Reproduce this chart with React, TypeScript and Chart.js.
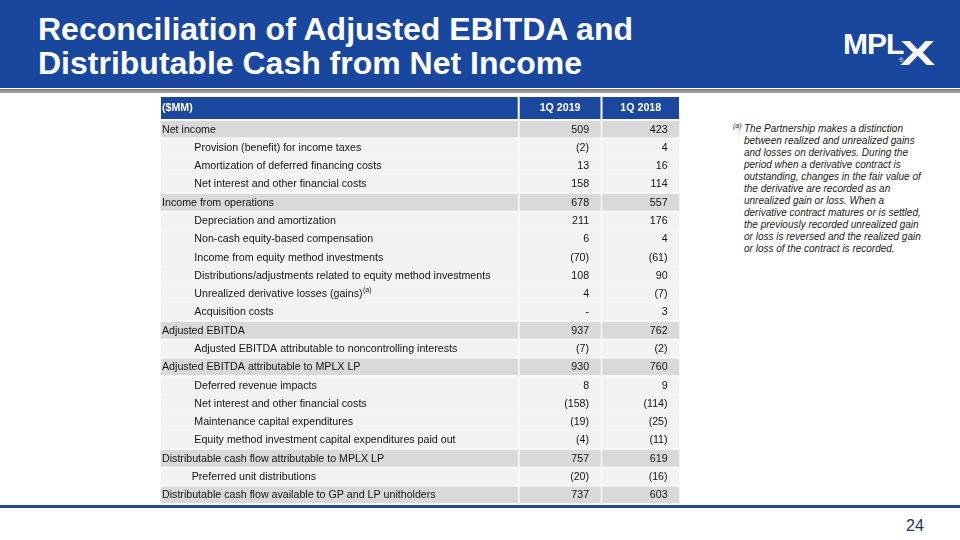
import React, { useEffect, useRef } from "react";
import { Chart, registerables } from "chart.js";

Chart.register(...registerables);

// ---------------- data ----------------
const COLUMN_HEADERS = ["($MM)", "1Q 2019", "1Q 2018"];

const ROW_LABELS = [
  "Net income",
  "Provision (benefit) for income taxes",
  "Amortization of deferred financing costs",
  "Net interest and other financial costs",
  "Income from operations",
  "Depreciation and amortization",
  "Non-cash equity-based compensation",
  "Income from equity method investments",
  "Distributions/adjustments related to equity method investments",
  "Unrealized derivative losses (gains)",
  "Acquisition costs",
  "Adjusted EBITDA",
  "Adjusted EBITDA attributable to noncontrolling interests",
  "Adjusted EBITDA attributable to MPLX LP",
  "Deferred revenue impacts",
  "Net interest and other financial costs",
  "Maintenance capital expenditures",
  "Equity method investment capital expenditures paid out",
  "Distributable cash flow attributable to MPLX LP",
  "Preferred unit distributions",
  "Distributable cash flow available to GP and LP unitholders",
];

const ROW_NOTES = ["", "", "", "", "", "", "", "", "", "(a)", "", "", "", "", "", "", "", "", "", "", ""];

// 0 = subtotal row, 1 = indented item, 2 = slightly less indented item
const ROW_LEVELS = [0, 1, 1, 1, 0, 1, 1, 1, 1, 1, 1, 0, 1, 0, 1, 1, 1, 1, 0, 2, 0];

const ROW_SHADED = [
  true, false, false, false, true, false, false, false, false, false, false,
  true, false, true, false, false, false, false, true, false, true,
];

const Q1_2019 = [509, -2, 13, 158, 678, 211, 6, -70, 108, 4, 0, 937, -7, 930, 8, -158, -19, -4, 757, -20, 737];
const Q1_2018 = [423, 4, 16, 114, 557, 176, 4, -61, 90, -7, 3, 762, -2, 760, 9, -114, -25, -11, 619, -16, 603];

const TITLE_LINES = ["Reconciliation of Adjusted EBITDA and", "Distributable Cash from Net Income"];

const FOOTNOTE_LINES = [
  "The Partnership makes a distinction",
  "between realized and unrealized gains",
  "and losses on derivatives. During the",
  "period when a derivative contract is",
  "outstanding, changes in the fair value of",
  "the derivative are recorded as an",
  "unrealized gain or loss. When a",
  "derivative contract matures or is settled,",
  "the previously recorded unrealized gain",
  "or loss is reversed and the realized gain",
  "or loss of the contract is recorded.",
];

const PAGE_NUMBER = "24";

// ---------------- layout / style ----------------
const FONT = "'Liberation Sans', Arial, Helvetica, sans-serif";
const BLUE = "#19479d";
const HEADER_BG = "#1b489e";
const SHADED_BG = "#d9d9d9";
const LIGHT_BG = "#f2f2f2";
const TEXT_COLOR = "#141414";
const TABLE_WIDTH = 520;
const COL_EDGES = [0, 358.7, 441.5, 520];
const INDENT_PX = [2, 34.3, 31.7];
const VALUE_PAD = 12.4;
const TABLE_FONT_SIZE = 10.67;

const VALUE_COLUMNS = [Q1_2019, Q1_2018];

function fmt(v: number): string {
  if (v === 0) return "-";
  if (v < 0) return "(" + Math.abs(v) + ")";
  return String(v);
}

const tablePlugin = {
  id: "tableCells",
  beforeDatasetsDraw(chart: any) {
    const { ctx, scales } = chart;
    const x = scales.x;
    ctx.save();
    ctx.fillStyle = HEADER_BG;
    for (let c = 0; c < COLUMN_HEADERS.length; c++) {
      const x0 = x.getPixelForValue(COL_EDGES[c]);
      const x1 = x.getPixelForValue(COL_EDGES[c + 1]);
      ctx.fillRect(x0 + 1, x.top + 1, x1 - x0 - 2, x.bottom - x.top - 2);
    }
    ctx.restore();
  },
  afterDatasetsDraw(chart: any) {
    const { ctx, scales } = chart;
    const x = scales.x;
    const y = scales.y;
    ctx.save();
    // header text
    const hy = (x.top + x.bottom) / 2 + 0.5;
    ctx.fillStyle = "#ffffff";
    ctx.font = `bold ${TABLE_FONT_SIZE}px ${FONT}`;
    ctx.textBaseline = "middle";
    ctx.textAlign = "left";
    ctx.fillText(COLUMN_HEADERS[0], x.getPixelForValue(COL_EDGES[0]) + INDENT_PX[0], hy);
    ctx.textAlign = "center";
    for (let c = 1; c < COLUMN_HEADERS.length; c++) {
      const cx = (x.getPixelForValue(COL_EDGES[c]) + x.getPixelForValue(COL_EDGES[c + 1])) / 2;
      ctx.fillText(COLUMN_HEADERS[c], cx, hy);
    }
    // body text
    ctx.fillStyle = TEXT_COLOR;
    for (let i = 0; i < ROW_LABELS.length; i++) {
      const py = y.getPixelForValue(i) + 0.5;
      ctx.font = `${TABLE_FONT_SIZE}px ${FONT}`;
      ctx.textAlign = "left";
      const lx = x.getPixelForValue(COL_EDGES[0]) + INDENT_PX[ROW_LEVELS[i]];
      ctx.fillText(ROW_LABELS[i], lx, py);
      if (ROW_NOTES[i]) {
        const w = ctx.measureText(ROW_LABELS[i]).width;
        ctx.font = `7px ${FONT}`;
        ctx.fillText(ROW_NOTES[i], lx + w + 0.5, py - 4);
        ctx.font = `${TABLE_FONT_SIZE}px ${FONT}`;
      }
      ctx.textAlign = "right";
      for (let c = 0; c < VALUE_COLUMNS.length; c++) {
        const rx = x.getPixelForValue(COL_EDGES[c + 2]) - VALUE_PAD;
        ctx.fillText(fmt(VALUE_COLUMNS[c][i]), rx, py);
      }
    }
    ctx.restore();
  },
};

function cellBorder(ctx: any) {
  const i = ctx.dataIndex;
  const last = ROW_LABELS.length - 1;
  const top = i === 0 || ROW_SHADED[i] || ROW_SHADED[i - 1] ? 1 : 0;
  const bottom = i === last || ROW_SHADED[i] || ROW_SHADED[i + 1] ? 1 : 0;
  return { top, bottom, left: 1, right: 1 };
}

function cellColor(ctx: any) {
  return ROW_SHADED[ctx.dataIndex] ? SHADED_BG : LIGHT_BG;
}

export default function App() {
  const ref = useRef<HTMLCanvasElement>(null);

  useEffect(() => {
    if (!ref.current) return;
    const datasets = COLUMN_HEADERS.map((h, c) => ({
      label: h,
      data: ROW_LABELS.map(() => [COL_EDGES[c], COL_EDGES[c + 1]]),
      backgroundColor: cellColor,
      borderColor: "#ffffff",
      borderWidth: cellBorder,
      borderSkipped: false,
      grouped: false,
      categoryPercentage: 1,
      barPercentage: 1,
    }));
    const chart = new Chart(ref.current, {
      type: "bar",
      data: { labels: ROW_LABELS, datasets: datasets as any },
      options: {
        animation: false,
        responsive: false,
        maintainAspectRatio: false,
        indexAxis: "y",
        events: [],
        layout: { padding: { left: 160, right: 960 - 160 - TABLE_WIDTH, top: 96, bottom: 36 } },
        plugins: {
          legend: { display: false },
          tooltip: { enabled: false },
          title: { display: false },
        },
        scales: {
          x: {
            type: "linear",
            position: "top",
            min: 0,
            max: TABLE_WIDTH,
            grid: { display: false },
            border: { display: false },
            ticks: { display: false },
            afterFit: (s: any) => {
              s.height = 24;
            },
          },
          y: {
            type: "category",
            display: false,
            grid: { display: false },
          },
        },
      } as any,
      plugins: [tablePlugin],
    });
    return () => chart.destroy();
  }, []);

  return (
    <div
      style={{
        position: "fixed",
        left: 0,
        top: 0,
        width: 960,
        height: 540,
        background: "#ffffff",
        overflow: "hidden",
        fontFamily: FONT,
      }}
    >
      <div style={{ position: "absolute", left: 0, top: 0, width: 960, height: 88, background: BLUE }} />
      <div
        style={{
          position: "absolute",
          left: 0,
          top: 89,
          width: 960,
          height: 4,
          background: "linear-gradient(#7a7a7a, #a8a8a8)",
        }}
      />
      <div
        style={{
          position: "absolute",
          left: 38,
          top: 12,
          color: "#ffffff",
          fontWeight: "bold",
          fontSize: 32,
          lineHeight: "34px",
          whiteSpace: "nowrap",
        }}
      >
        {TITLE_LINES.map((t) => (
          <div key={t}>{t}</div>
        ))}
      </div>
      {/* logo */}
      <div
        style={{
          position: "absolute",
          left: 843,
          top: 29,
          color: "#ffffff",
          fontWeight: 900,
          fontSize: 30,
          lineHeight: 1,
          letterSpacing: -1,
          whiteSpace: "nowrap",
        }}
      >
        MPL
      </div>
      <div
        style={{
          position: "absolute",
          left: 900,
          top: 35,
          color: "#ffffff",
          fontWeight: 900,
          fontSize: 35,
          lineHeight: 1,
          transform: "scaleX(1.5)",
          transformOrigin: "left top",
          whiteSpace: "nowrap",
        }}
      >
        X
      </div>
      <div
        style={{
          position: "absolute",
          left: 899,
          top: 57,
          color: "#ffffff",
          fontSize: 6,
          lineHeight: 1,
        }}
      >
        ®
      </div>
      {/* footnote */}
      <div
        style={{
          position: "absolute",
          left: 733,
          top: 122,
          color: "#1a1a1a",
          fontSize: 7,
          fontStyle: "italic",
          lineHeight: 1,
        }}
      >
        (a)
      </div>
      <div
        style={{
          position: "absolute",
          left: 744,
          top: 123,
          color: "#1a1a1a",
          fontSize: 10,
          fontStyle: "italic",
          lineHeight: "12px",
          whiteSpace: "nowrap",
        }}
      >
        {FOOTNOTE_LINES.map((t, i) => (
          <div key={i}>{t}</div>
        ))}
      </div>
      {/* bottom rule */}
      <div style={{ position: "absolute", left: 0, top: 505, width: 960, height: 3, background: "#24478d" }} />
      <div
        style={{
          position: "absolute",
          left: 906,
          top: 517.5,
          color: "#1f3864",
          fontSize: 16,
          lineHeight: "16px",
        }}
      >
        {PAGE_NUMBER}
      </div>
      <canvas
        ref={ref}
        width={960}
        height={540}
        style={{ position: "absolute", left: 0, top: 0, width: 960, height: 540 }}
      />
    </div>
  );
}
